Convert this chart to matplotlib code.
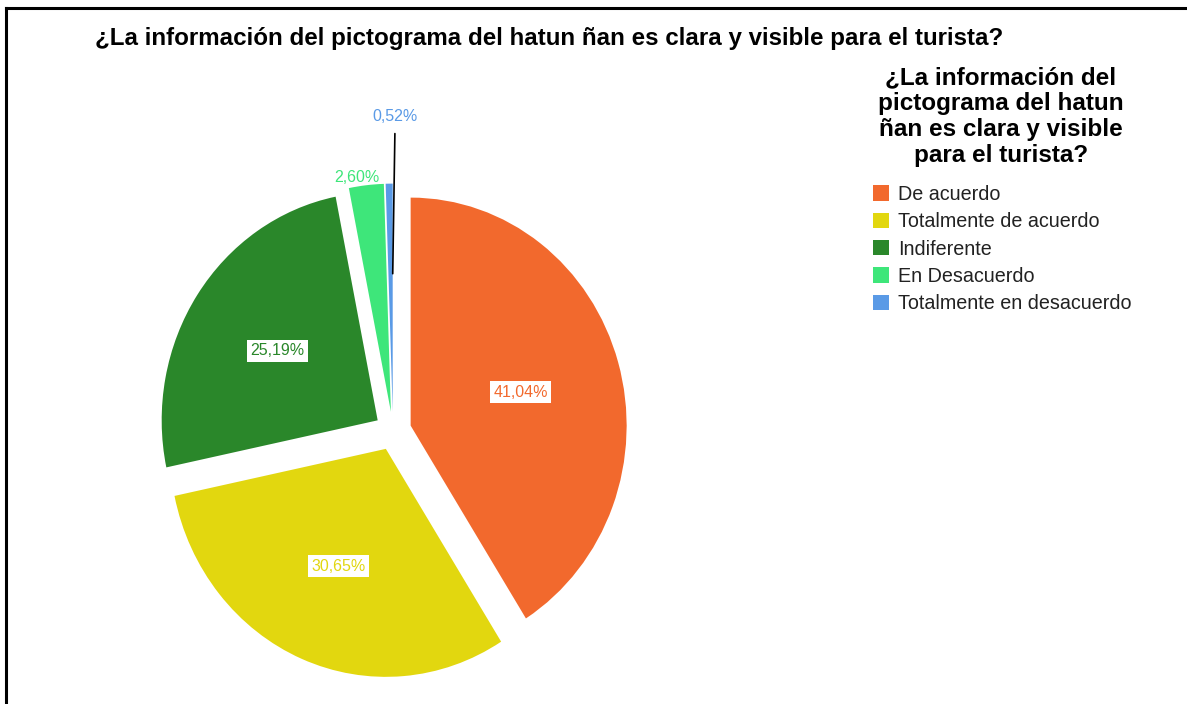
import numpy as np
import matplotlib
matplotlib.use("Agg")
import matplotlib.pyplot as plt
from matplotlib.lines import Line2D

plt.rcParams['font.family'] = ['Liberation Sans', 'DejaVu Sans']

title = "¿La información del pictograma del hatun ñan es clara y visible para el turista?"
legend_title = "¿La información del\npictograma del hatun\nñan es clara y visible\npara el turista?"
categories = ["De acuerdo", "Totalmente de acuerdo", "Indiferente",
              "En Desacuerdo", "Totalmente en desacuerdo"]
values = [41.04, 30.65, 25.19, 2.60, 0.52]
colors = ["#F2692D", "#E2D70F", "#2A872A", "#3EE67A", "#5A9AE6"]

fig = plt.figure(figsize=(11.87, 7.04), dpi=100)
W, H = 1187, 704

# pie axes: centre ~(393, 431) px, radius ~216 px across, ~228 px down
L = 1.25
rx, ry = 216, 228
cx, cy = 393, 431
ax = fig.add_axes([(cx - L * rx) / W, (H - cy - L * ry) / H, 2 * L * rx / W, 2 * L * ry / H])
ax.set_xlim(-L, L)
ax.set_ylim(-L, L)
ax.axis('off')


def fmt(p):
    return f"{p:.2f}%".replace('.', ',')


ex = 0.085
explode = [ex] * len(values)
wedges, texts, autotexts = ax.pie(values, colors=colors, explode=explode, startangle=90,
                                  counterclock=False, radius=1, autopct=fmt,
                                  pctdistance=0.53, labeldistance=None,
                                  wedgeprops=dict(linewidth=0))
ax.set_aspect('auto')

total = sum(values)
start = 90.0
mids = []
for v in values:
    sweep = 360.0 * v / total
    mids.append(np.deg2rad(start - sweep / 2))
    start -= sweep

# inside labels with white boxes
label_r = [0.53, 0.56, 0.555]
for i in range(3):
    t = autotexts[i]
    t.set_color(colors[i])
    t.set_fontsize(11.5)
    t.set_bbox(dict(facecolor='white', edgecolor='none', pad=2.5))
    r = ex + label_r[i]
    t.set_position((r * np.cos(mids[i]), r * np.sin(mids[i])))

# small slices: labels outside
t = autotexts[3]
t.set_color(colors[3])
t.set_fontsize(11.5)
t.set_position((1.12 * np.cos(mids[3]) - 0.04, 1.12 * np.sin(mids[3])))

autotexts[4].set_visible(False)
a = mids[4]
ax.annotate(fmt(values[4]), xy=(0.69 * np.cos(a) + 0.01, 0.69 * np.sin(a)),
            xytext=(0.01, 1.38), color=colors[4], fontsize=11.5, ha='center', va='center',
            arrowprops=dict(arrowstyle='-', color='black', lw=1.2, shrinkA=5, shrinkB=0))

fig.text(95 / W, 1 - 38 / H, title, fontsize=17.4, fontweight='bold', ha='left', va='center')

# legend title and entries
fig.text(1001 / W, 1 - 66 / H, legend_title, fontsize=17.5, fontweight='bold',
         ha='center', va='top', multialignment='center', linespacing=1.16)
leg = fig.legend(wedges, categories, loc='upper left',
                 bbox_to_anchor=(873 / W, 1 - 185 / H), frameon=False,
                 fontsize=14.2, handlelength=0.82, handleheight=0.82, handletextpad=0.45,
                 labelspacing=0.42, borderaxespad=0, borderpad=0)
for t in leg.get_texts():
    t.set_color('#222222')

# border lines on left and top
fig.add_artist(Line2D([6 / W, 6 / W], [0, 1 - 8 / H], color='black', lw=2.2, transform=fig.transFigure))
fig.add_artist(Line2D([6 / W, 1], [1 - 8 / H, 1 - 8 / H], color='black', lw=2.2, transform=fig.transFigure))

fig.savefig("out.png", dpi=100)
